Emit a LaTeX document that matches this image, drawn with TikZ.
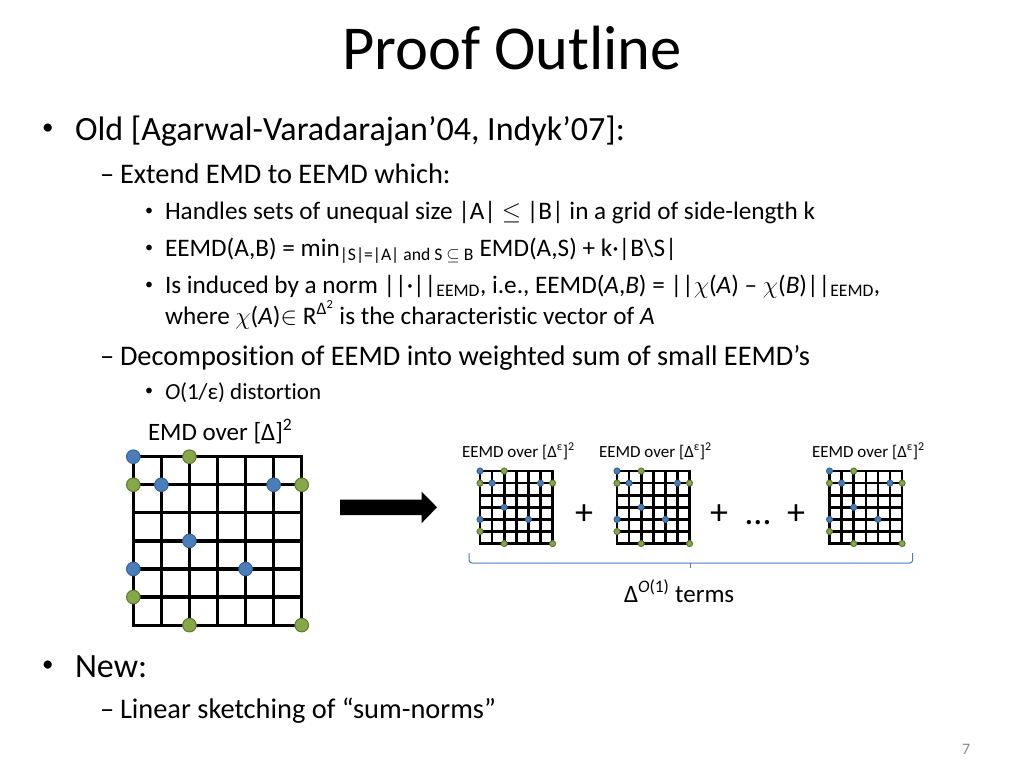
\documentclass[tikz,border=0pt]{standalone}
\usepackage{fontspec}
\setmainfont{Carlito}[Ligatures={TeX,NoCommon}]
\definecolor{dotblue}{HTML}{4A7EBB}
\definecolor{dotblueline}{HTML}{3A6496}
\definecolor{dotgreen}{HTML}{86A84A}
\definecolor{dotgreenline}{HTML}{5F7A30}
\definecolor{brk}{HTML}{4A7EBB}
\definecolor{pgnum}{HTML}{8C8C8C}
\newcommand\emdgrid[6]{%
  \foreach \i in {0,...,6} {
    \draw[gridline, line width=#4] (#1+\i*#3, #2) -- (#1+\i*#3, #2+6*#3);
    \draw[gridline, line width=#4] (#1, #2+\i*#3) -- (#1+6*#3, #2+\i*#3);
  }
  \foreach \c/\r [count=\k] in {0/0,1/1,5/1,2/3,0/4,4/4}
    \node[bdot, minimum size={#5*2pt}] (#6b\k) at (#1+\c*#3, #2+\r*#3) {};
  \foreach \c/\r [count=\k] in {2/0,0/1,6/1,0/5,2/6,6/6}
    \node[gdot, minimum size={#5*2pt}] (#6g\k) at (#1+\c*#3, #2+\r*#3) {};
}
\begin{document}
\begin{tikzpicture}[x=1pt,y=-1pt,
  txt/.style={anchor=base west, inner sep=0pt, outer sep=0pt},
  lvlone/.style={txt, font=\fontsize{34}{40}\selectfont},
  lvltwo/.style={txt, font=\fontsize{28.4}{34}\selectfont},
  lvlthree/.style={txt, font=\fontsize{25.2}{30}\selectfont},
  bulone/.style={txt, font=\fontsize{23}{26}\selectfont},
  bulthree/.style={txt, font=\fontsize{16}{18}\selectfont},
  gridline/.style={draw=black, line cap=rect},
  bdot/.style={circle, inner sep=0pt, fill=dotblue, draw=dotblueline, line width=1pt},
  gdot/.style={circle, inner sep=0pt, fill=dotgreen, draw=dotgreenline, line width=1pt},
  plus/.style={anchor=base, inner sep=0pt, font=\fontsize{36}{40}\selectfont},
  brace/.style={draw=brk, line width=1pt, rounded corners=3pt}]
\useasboundingbox[fill=white] (0,0) rectangle (1024,768);

\node[anchor=base, inner sep=0pt, font=\fontsize{62.5}{72}\selectfont] (title) at (512,70) {Proof Outline};

\node[bulone] (b1) at (42,134) {\textbullet};
\node[lvlone] (l1) at (75,140) {Old [Agarwal-Varadarajan’04, Indyk’07]:};
\node[lvltwo] (d1) at (100,183) {–};
\node[lvltwo] (l2) at (120,183) {Extend EMD to EEMD which:};
\node[bulthree] (b31) at (145,215) {\textbullet};
\node[lvlthree] (l31) at (165,219) {Handles sets of unequal size |A| $\leq$ |B| in a grid of side-length k};
\node[bulthree] (b32) at (145,252) {\textbullet};
\node[lvlthree] (l32) at (165,256) {EEMD(A,B) = min\textsubscript{|S|=|A| and S $\subseteq$ B} EMD(A,S) + k·|B\textbackslash S|};
\node[bulthree] (b33) at (145,289) {\textbullet};
\node[lvlthree] (l33) at (165,293) {Is induced by a norm ||·||\textsubscript{EEMD}, i.e., EEMD(\textit{A},\textit{B}) = ||$\chi$(\textit{A}) – $\chi$(\textit{B})||\textsubscript{EEMD},};
\node[lvlthree] (l34) at (165,324) {where $\chi$(\textit{A})$\in$ R\textsuperscript{Δ\textsuperscript{2}} is the characteristic vector of \textit{A}};
\node[lvltwo] (d2) at (100,365) {–};
\node[lvltwo] (l4) at (120,365) {Decomposition of EEMD into weighted sum of small EEMD’s};
\node[bulthree] (b35) at (145,395) {\textbullet};
\node[txt, font=\fontsize{23}{28}\selectfont] (l35) at (165,399) {\textit{O}(1/ε) distortion};

\node[txt, font=\fontsize{25}{29}\selectfont] (emdlab) at (148,440) {EMD over [Δ]\textsuperscript{2}};
\emdgrid{133.3}{456.7}{28.07}{3.2}{6.8}{G}

\fill (340,499.5) -- (421.5,499.5) -- (421.5,491.5) -- (437,507.3) -- (421.5,523.3) -- (421.5,515) -- (340,515) -- cycle;

\node[txt, font=\fontsize{17}{20}\selectfont] (e1) at (462,457) {EEMD over [Δ\textsuperscript{ε}]\textsuperscript{2}};
\node[txt, font=\fontsize{17}{20}\selectfont] (e2) at (599,457) {EEMD over [Δ\textsuperscript{ε}]\textsuperscript{2}};
\node[txt, font=\fontsize{17}{20}\selectfont] (e3) at (812,457) {EEMD over [Δ\textsuperscript{ε}]\textsuperscript{2}};
\emdgrid{480}{471}{12.1}{2.6}{3.0}{A}
\emdgrid{617}{471}{12.1}{2.6}{3.0}{B}
\emdgrid{829.5}{471}{12.1}{2.6}{3.0}{C}

\node[plus] (p1) at (584,524) {+};
\node[plus] (p2) at (719,524) {+};
\node[plus] (p3) at (758,524) {…};
\node[plus] (p4) at (796,524) {+};

\draw[brace] (469,553) -- (469,563) -- (912.7,563) -- (912.7,553);
\draw[draw=brk, line width=1pt] (690.7,563) -- (690.7,568);
\node[txt, font=\fontsize{25}{29}\selectfont] (terms) at (624,602) {Δ\textsuperscript{\textit{O}(1)} terms};

\node[bulone] (b2) at (42,671) {\textbullet};
\node[lvlone] (l5) at (75,677) {New:};
\node[lvltwo] (d3) at (100,718) {–};
\node[lvltwo] (l6) at (120,718) {Linear sketching of “sum-norms”};

\node[txt, font=\fontsize{16}{18}\selectfont, text=pgnum] (pg) at (962,754) {7};
\end{tikzpicture}
\end{document}
